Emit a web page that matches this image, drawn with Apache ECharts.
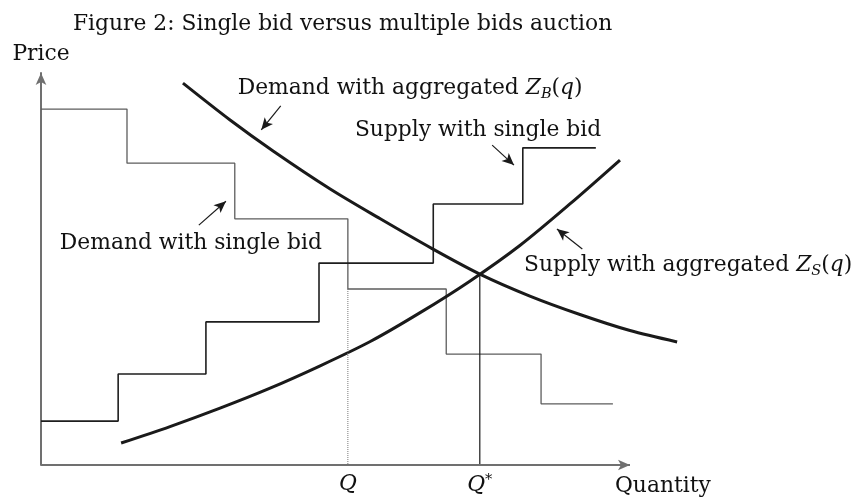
<!DOCTYPE html>
<html lang="en">
<head>
    <meta charset="UTF-8">
    <title>Figure 2</title>
    <script src="https://cdn.jsdelivr.net/npm/echarts@6/dist/echarts.min.js"></script>
    <style>
        html, body { margin: 0; padding: 0; background: #fff; }
        #myCharts { width: 856px; height: 497px; }
    </style>
</head>
<body>
<div id="myCharts"></div>
<script>
    // step bids: break points on quantity, one price level per step
    const demandStepQ = [0, 14.6, 32.9, 52.1, 68.8, 84.9, 97.1];
    const demandStepP = [90.8, 77.0, 62.8, 44.9, 28.3, 15.6];
    const supplyStepQ = [0, 13.1, 28.0, 47.2, 66.6, 81.8, 94.2];
    const supplyStepP = [11.2, 23.2, 36.5, 51.5, 66.6, 80.9];

    // aggregated curves Z_B(q) and Z_S(q)
    const demandCurveQ = [24.1, 32.1, 39.4, 49.1, 57.6, 66.4, 74.5, 83.0, 91.5, 100.0, 108.0];
    const demandCurveP = [97.4, 88.0, 80.1, 70.4, 62.8, 55.2, 48.7, 43.1, 38.4, 34.3, 31.4];
    const supplyCurveQ = [13.6, 21.9, 30.4, 38.9, 47.4, 55.9, 64.3, 72.8, 81.3, 89.8, 98.3];
    const supplyCurveP = [5.6, 9.8, 14.5, 19.6, 25.3, 31.5, 38.8, 46.9, 56.0, 66.6, 77.8];

    // Q (single bid clearing) and Q* (aggregated clearing)
    const qSingle = 52.1, qSingleP = 44.9;
    const qStar = 74.5, qStarP = 48.7;
    const axisEndQ = 100;

    // pointer arrows: [fromQ, fromP, toQ, toP]
    const arrows = [
        [40.7, 91.6, 37.4, 85.5],
        [26.8, 61.2, 31.4, 67.3],
        [76.6, 81.6, 80.3, 76.5],
        [91.9, 55.1, 87.6, 60.2]
    ];

    const labelNames = [
        'Demand with aggregated {i|Z}{sub|B}({i|q})',
        'Supply with single bid',
        'Demand with single bid',
        'Supply with aggregated {i|Z}{sub|S}({i|q})'
    ];
    const labelQ = [33.4, 53.3, 3.2, 82.0];
    const labelP = [96.2, 85.5, 56.6, 51.0];

    const FONT = 'DejaVu Serif';
    const FS = 21.8;
    const INK = '#111';
    const richText = {
        i: {fontFamily: FONT, fontStyle: 'italic', fontSize: FS, color: INK},
        sub: {fontFamily: FONT, fontStyle: 'italic', fontSize: 14.5, color: INK, padding: [12, 0, 0, 0]},
        sup: {fontFamily: FONT, fontSize: 14.5, color: INK, padding: [0, 0, 10, 0]}
    };

    let steps = (qs, ps) => {
        const pts = [];
        ps.forEach((p, i) => {
            pts.push([qs[i], p], [qs[i + 1], p]);
        });
        return pts;
    };
    let zip = (a, b) => a.map((v, i) => [v, b[i]]);

    let myChart = echarts.init(document.getElementById('myCharts'));
    myChart.setOption({
        backgroundColor: '#fff',
        animation: false,
        title: {
            text: 'Figure 2: Single bid versus multiple bids auction',
            left: 73,
            top: 13,
            padding: 0,
            textStyle: {fontFamily: FONT, fontWeight: 'normal', fontSize: FS, color: INK}
        },
        // x runs to 110 so the demand curve can pass the arrow end (q = 100)
        grid: {left: 41, top: 73, right: 167.1, bottom: 32, containLabel: false},
        xAxis: {
            type: 'value',
            min: 0,
            max: 110,
            axisLine: {show: false},
            axisTick: {show: false},
            splitLine: {show: false},
            axisLabel: {
                customValues: [qSingle, qStar],
                margin: 8,
                rich: richText,
                formatter: (v) => v === qStar ? '{i|Q}{sup|*}' : '{i|Q}'
            }
        },
        yAxis: {
            type: 'value',
            min: 0,
            max: 100,
            name: 'Price',
            nameLocation: 'end',
            nameGap: 8,
            nameTextStyle: {fontFamily: FONT, fontSize: FS, color: INK},
            axisLine: {lineStyle: {color: '#707070', width: 2}, symbol: ['none', 'arrow'], symbolSize: [8, 12]},
            axisTick: {show: false},
            axisLabel: {show: false},
            splitLine: {show: false}
        },
        series: [
            {
                name: 'demand single bid',
                type: 'line',
                data: steps(demandStepQ, demandStepP),
                symbol: 'none',
                lineStyle: {color: '#5c5c5c', width: 1.3}
            },
            {
                name: 'supply single bid',
                type: 'line',
                data: steps(supplyStepQ, supplyStepP),
                symbol: 'none',
                lineStyle: {color: '#1e1e1e', width: 1.6}
            },
            {
                name: 'Z_B',
                type: 'line',
                data: zip(demandCurveQ, demandCurveP),
                smooth: 0.3,
                symbol: 'none',
                lineStyle: {color: '#1a1a1a', width: 3}
            },
            {
                name: 'Z_S',
                type: 'line',
                data: zip(supplyCurveQ, supplyCurveP),
                smooth: 0.3,
                symbol: 'none',
                lineStyle: {color: '#1a1a1a', width: 3}
            },
            {
                name: 'Q',
                type: 'line',
                data: [[qSingle, qSingleP], [qSingle, 0]],
                symbol: 'none',
                lineStyle: {color: '#777', width: 1, type: [1, 1]}
            },
            {
                name: 'Q*',
                type: 'line',
                data: [[qStar, qStarP], [qStar, 0]],
                symbol: 'none',
                lineStyle: {color: '#1a1a1a', width: 1.2}
            },
            {
                name: 'quantity axis',
                type: 'line',
                data: [],
                markLine: {
                    silent: true,
                    symbol: ['none', 'arrow'],
                    symbolSize: [8, 12],
                    label: {
                        show: true,
                        position: 'end',
                        formatter: 'Quantity',
                        fontFamily: FONT,
                        fontSize: FS,
                        color: INK,
                        align: 'left',
                        verticalAlign: 'top',
                        offset: [-20, 10]
                    },
                    lineStyle: {color: '#707070', width: 2, type: 'solid'},
                    data: [[{coord: [0, 0]}, {coord: [axisEndQ, 0]}]]
                }
            },
            {
                name: 'arrows',
                type: 'line',
                data: [],
                markLine: {
                    silent: true,
                    symbol: ['none', 'arrow'],
                    symbolSize: [8, 12],
                    label: {show: false},
                    lineStyle: {color: '#1a1a1a', width: 1.2, type: 'solid'},
                    data: arrows.map(a => [{coord: [a[0], a[1]]}, {coord: [a[2], a[3]]}])
                }
            },
            {
                name: 'labels',
                type: 'scatter',
                symbolSize: 0,
                itemStyle: {opacity: 1},
                data: labelNames.map((t, i) => ({
                    value: [labelQ[i], labelP[i]],
                    label: {
                        show: true,
                        position: 'right',
                        distance: 0,
                        formatter: t,
                        fontFamily: FONT,
                        fontSize: FS,
                        color: INK,
                        opacity: 1,
                        rich: richText
                    }
                }))
            }
        ]
    });
</script>
</body>
</html>
